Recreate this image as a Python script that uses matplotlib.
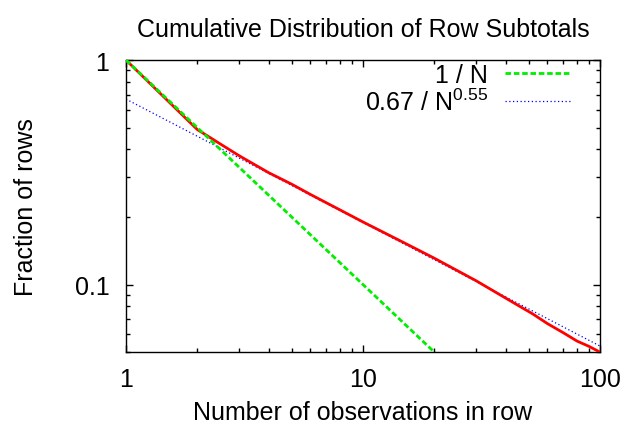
import numpy as np
import matplotlib
matplotlib.use("Agg")
import matplotlib.pyplot as plt
from matplotlib.ticker import LogLocator, FixedLocator, NullFormatter

plt.rcParams['font.family'] = ['Liberation Sans', 'DejaVu Sans']
plt.rcParams['mathtext.default'] = 'regular'

obs_n = [1, 2, 3, 4, 5, 6, 8, 10, 15, 20, 30, 40, 52, 60, 70, 80, 90, 100]
obs_frac = [1.0, 0.49, 0.375, 0.315, 0.28, 0.252, 0.215, 0.19, 0.153, 0.131,
            0.104, 0.087, 0.074, 0.067, 0.061, 0.056, 0.053, 0.05]

# Reference curves
fit_coef = 0.67
fit_exp = 0.55
x_labels = ["1", "10", "100"]
y_labels = ["0.1", "1"]

n = np.logspace(0, 2, 200)
fs = 18

fig = plt.figure(figsize=(6.25, 4.27), dpi=100)
ax = fig.add_axes([0.2016, 0.173, 0.7584, 0.684])

ax.plot(obs_n, obs_frac, color="#ff0000", lw=2, zorder=3)
ax.plot(n, 1 / n, color="#00ee00", lw=2, ls=(0, (2, 1)), label="1 / N", zorder=4)
ax.plot(n, fit_coef / n ** fit_exp, color="#0000ff", lw=0.9, ls=(0, (1, 2)),
        label="%.2f / N$^{%.2f}$" % (fit_coef, fit_exp), zorder=2)

ax.set_xscale("log")
ax.set_yscale("log")
ax.set_xlim(1, 100)
ax.set_ylim(0.05, 1)

ax.xaxis.set_major_locator(FixedLocator([1, 10, 100]))
ax.set_xticklabels(x_labels)
ax.yaxis.set_major_locator(FixedLocator([0.1, 1]))
ax.set_yticklabels(y_labels)
ax.xaxis.set_minor_locator(LogLocator(base=10, subs=np.arange(2, 10)))
ax.yaxis.set_minor_locator(LogLocator(base=10, subs=np.arange(2, 10)))
ax.xaxis.set_minor_formatter(NullFormatter())
ax.yaxis.set_minor_formatter(NullFormatter())

ax.tick_params(which="both", direction="in", top=True, right=True,
               labelsize=fs, width=1)
ax.tick_params(axis="x", which="major", pad=11)
ax.tick_params(axis="y", which="major", pad=12)
ax.tick_params(which="major", length=5)
ax.tick_params(which="minor", length=3)
for s in ax.spines.values():
    s.set_linewidth(1)

ax.set_title("Cumulative Distribution of Row Subtotals", fontsize=fs, pad=17)
ax.set_xlabel("Number of observations in row", fontsize=fs)
ax.set_ylabel("Fraction of rows", fontsize=fs)
ax.xaxis.set_label_coords(0.5, -0.164)
ax.yaxis.set_label_coords(-0.185, 0.5)

ax.legend(loc="upper right", frameon=False, markerfirst=False, fontsize=fs,
          handlelength=2.64, labelspacing=0.05, handletextpad=0.68,
          borderaxespad=0, borderpad=0, bbox_to_anchor=(0.939, 0.99))

fig.savefig("out.png", dpi=100)
